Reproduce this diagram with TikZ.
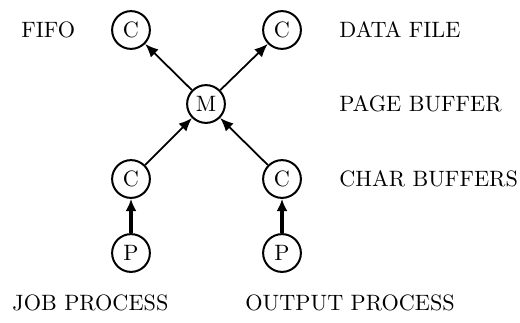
\documentclass[tikz,border=0pt]{standalone}
\usetikzlibrary{arrows.meta}
\begin{document}
\begin{tikzpicture}[x=0.45pt,y=-0.45pt,
  proc/.style={circle,draw,line width=0.9pt,minimum size=17pt,inner sep=0pt},
  lbl/.style={inner sep=0pt},
  link/.style={line width=0.8pt,-{Latex[length=6pt,width=5pt]}},
  thick link/.style={line width=1.4pt,-{Latex[length=5.5pt,width=5pt]}}]
\useasboundingbox (0,0) rectangle (520,322);
\node[proc] (c1) at (131,30) {C};
\node[proc] (c2) at (282,30) {C};
\node[proc] (m) at (206,104) {M};
\node[proc] (c3) at (131,179) {C};
\node[proc] (c4) at (282,179) {C};
\node[proc] (p1) at (131,253) {P};
\node[proc] (p2) at (282,253) {P};
\draw[link] (m) -- (c1);
\draw[link] (m) -- (c2);
\draw[link] (c3) -- (m);
\draw[link] (c4) -- (m);
\draw[thick link] (p1) -- (c3);
\draw[thick link] (p2) -- (c4);
\node[lbl,anchor=west] (fifo) at (21,30) {FIFO};
\node[lbl,anchor=west] (df) at (339,30) {DATA FILE};
\node[lbl,anchor=west] (pb) at (339,104) {PAGE BUFFER};
\node[lbl,anchor=west] (cb) at (339,179) {CHAR BUFFERS};
\node[lbl,anchor=west] (jp) at (12,303) {JOB PROCESS};
\node[lbl,anchor=west] (op) at (245,303) {OUTPUT PROCESS};
\end{tikzpicture}
\end{document}
